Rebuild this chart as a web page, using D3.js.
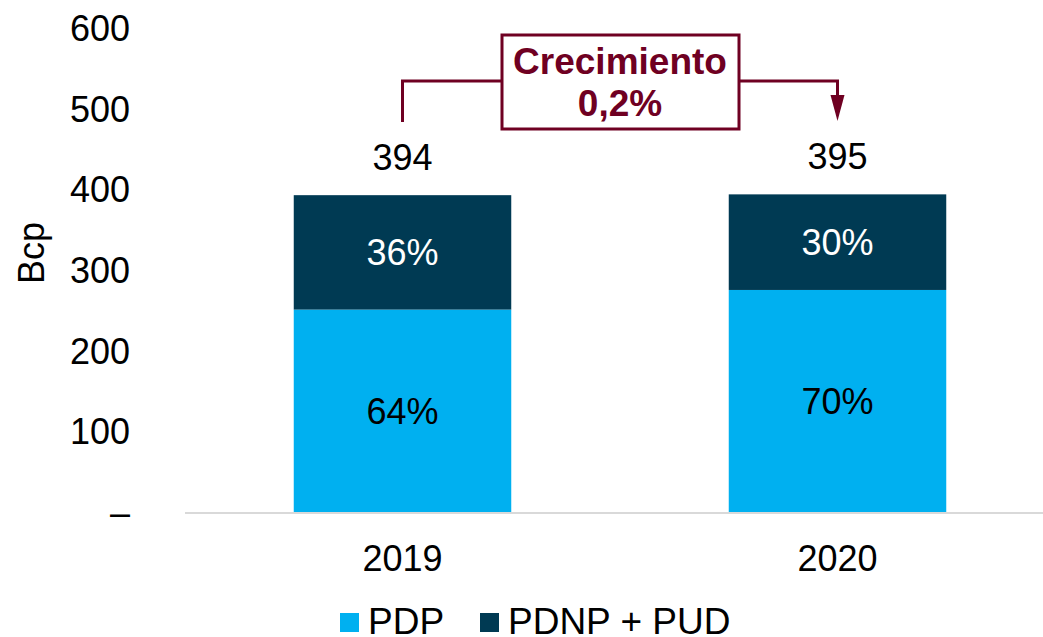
<!DOCTYPE html>
<html>
<head>
<meta charset="utf-8">
<script src="https://cdn.jsdelivr.net/npm/d3@7"></script>
<style>
  body { margin: 0; background: #fff; }
  text { font-family: "Liberation Sans", Arial, sans-serif; }
</style>
</head>
<body>
<svg width="1043" height="637"></svg>
<script>
const chart = d3.select("svg");

// data
const years = ["2019", "2020"];
const totals = [394, 395];
const pdpShare = [64, 70];
const pdnpShare = [36, 30];
const seriesNames = ["PDP", "PDNP + PUD"];
const yTicks = [0, 100, 200, 300, 400, 500, 600];
const growthText = ["Crecimiento", "0,2%"];

const COL_PDP = "#00B0F0";
const COL_PDNP = "#003A53";
const COL_NOTE = "#6F0022";
const FONT = 36;

const x = d3.scaleBand()
            .domain(years)
            .range([185, 1055])
            .paddingInner(0.5)
            .paddingOuter(0.25);

const y = d3.scaleLinear()
            .domain([0, 600])
            .range([513, 29]);

// stacked rows
const rows = years.map((yr, i) => {
    let pdp = totals[i] * pdpShare[i] / 100;
    return { year: yr, total: totals[i], pdp: pdp, pdnp: totals[i] - pdp,
             pdpLbl: pdpShare[i] + "%", pdnpLbl: pdnpShare[i] + "%" };
});

// y axis labels (no line)
const yAxis = chart.append("g")
                   .attr("transform", "translate(130,0)")
                   .call(d3.axisLeft(y).tickValues(yTicks).tickSize(0).tickPadding(0)
                           .tickFormat(d => d === 0 ? "–" : d));
yAxis.select(".domain").remove();
yAxis.selectAll("text")
     .attr("font-size", FONT)
     .attr("fill", "#000")
     .style("font-family", "'Liberation Sans', Arial, sans-serif");

chart.append("text")
     .attr("transform", "translate(44,253) rotate(-90)")
     .attr("text-anchor", "middle")
     .attr("font-size", FONT)
     .text("Bcp");

// bars
const groups = chart.selectAll("g.bar")
                    .data(rows)
                    .enter()
                    .append("g")
                    .attr("class", "bar");

groups.append("rect")
      .attr("x", d => x(d.year))
      .attr("width", x.bandwidth())
      .attr("y", d => y(d.pdp))
      .attr("height", d => y(0) - y(d.pdp))
      .attr("fill", COL_PDP);

groups.append("rect")
      .attr("x", d => x(d.year))
      .attr("width", x.bandwidth())
      .attr("y", d => y(d.total))
      .attr("height", d => y(d.pdp) - y(d.total))
      .attr("fill", COL_PDNP);

const cx = d => x(d.year) + x.bandwidth() / 2;

groups.append("text")
      .attr("x", cx)
      .attr("y", d => (y(0) + y(d.pdp)) / 2)
      .attr("dy", "0.35em")
      .attr("text-anchor", "middle")
      .attr("font-size", FONT)
      .attr("fill", "#000")
      .text(d => d.pdpLbl);

groups.append("text")
      .attr("x", cx)
      .attr("y", d => (y(d.pdp) + y(d.total)) / 2)
      .attr("dy", "0.35em")
      .attr("text-anchor", "middle")
      .attr("font-size", FONT)
      .attr("fill", "#fff")
      .text(d => d.pdnpLbl);

groups.append("text")
      .attr("x", cx)
      .attr("y", d => y(d.total) - 25)
      .attr("text-anchor", "middle")
      .attr("font-size", FONT)
      .text(d => d.total);

// baseline
chart.append("line")
     .attr("x1", 185).attr("x2", 1043)
     .attr("y1", y(0)).attr("y2", y(0))
     .attr("stroke", "#d9d9d9")
     .attr("stroke-width", 2);

// category labels
chart.selectAll("text.cat")
     .data(years)
     .enter()
     .append("text")
     .attr("class", "cat")
     .attr("x", d => x(d) + x.bandwidth() / 2)
     .attr("y", 571)
     .attr("text-anchor", "middle")
     .attr("font-size", FONT)
     .text(d => d);

// growth annotation
const ax1 = cx(rows[0]), ax2 = cx(rows[1]);
const lineY = 81;
const note = chart.append("g");
note.append("path")
    .attr("d", `M${ax1},122 V${lineY} H${ax2} V100`)
    .attr("fill", "none")
    .attr("stroke", COL_NOTE)
    .attr("stroke-width", 3);
note.append("path")
    .attr("d", `M${ax2 - 7},95 L${ax2 + 7},95 L${ax2},121 Z`)
    .attr("fill", COL_NOTE);
note.append("rect")
    .attr("x", 502).attr("y", 35)
    .attr("width", 237).attr("height", 94)
    .attr("fill", "#fff")
    .attr("stroke", COL_NOTE)
    .attr("stroke-width", 3);
note.selectAll("text")
    .data(growthText)
    .enter()
    .append("text")
    .attr("x", 620)
    .attr("y", (d, i) => 74 + i * 42)
    .attr("text-anchor", "middle")
    .attr("font-size", 37)
    .attr("font-weight", "bold")
    .attr("fill", COL_NOTE)
    .text(d => d);

// legend
const legend = chart.append("g");
const legX = [340, 480];
const legCol = [COL_PDP, COL_PDNP];
seriesNames.forEach((name, i) => {
    legend.append("rect")
          .attr("x", legX[i]).attr("y", 613)
          .attr("width", 19).attr("height", 19)
          .attr("fill", legCol[i]);
    legend.append("text")
          .attr("x", legX[i] + 28)
          .attr("y", 634)
          .attr("font-size", 37)
          .text(name);
});
</script>
</body>
</html>
